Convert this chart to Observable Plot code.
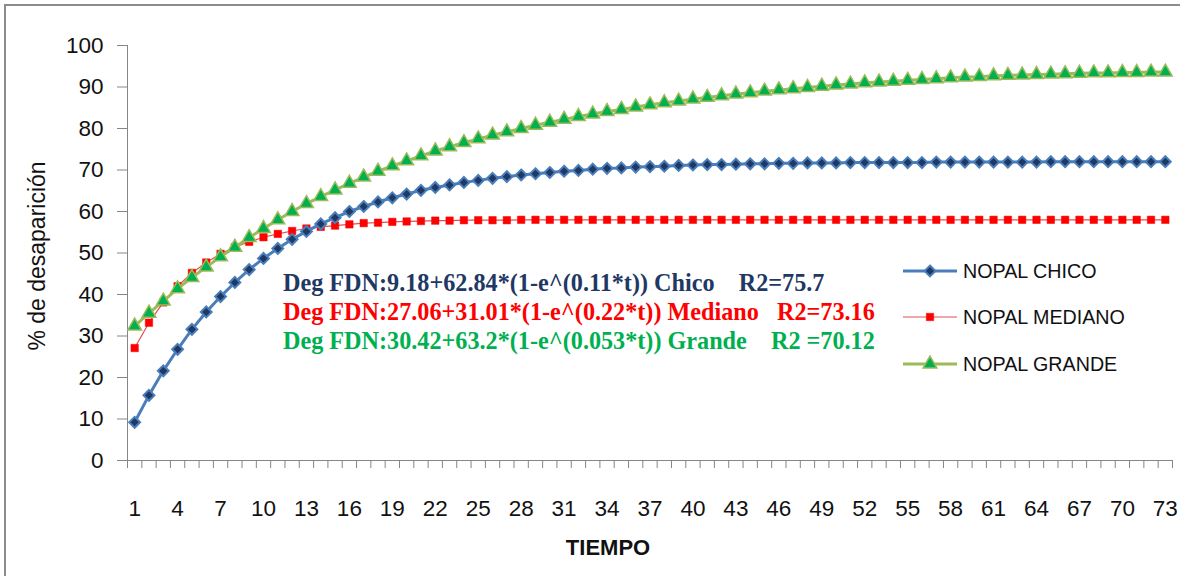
<!DOCTYPE html>
<html>
<head>
<meta charset="utf-8">
<script src="https://cdn.jsdelivr.net/npm/d3@7"></script>
<script src="https://cdn.jsdelivr.net/npm/@observablehq/plot@0.6"></script>
<style>
  html, body { margin: 0; padding: 0; background: #fff; }
  #wrap { position: relative; width: 1180px; height: 576px; overflow: hidden; background: #fff; font-family: "Liberation Sans", Arial, sans-serif; }
  #chart { position: absolute; left: 0; top: 0; }
  #chart svg text { font-size: 22.5px; }
  .bord-top { position: absolute; left: 4px; top: 4px; width: 1176px; height: 2px; background: #8c8c8c; }
  .bord-left { position: absolute; left: 4px; top: 4px; width: 2px; height: 572px; background: #8c8c8c; }
  .ylab { position: absolute; left: 37px; top: 256px; transform: translate(-50%, -50%) rotate(-90deg); font-size: 23px; white-space: nowrap; color: #111; }
  .xlab { position: absolute; left: 608px; top: 548px; transform: translate(-50%, -50%); font-size: 22px; font-weight: bold; color: #111; }
  .ann { position: absolute; left: 283px; font-family: "Liberation Serif", "Times New Roman", serif; font-weight: bold; font-size: 24.2px; line-height: 30px; white-space: pre; }
  .leg { position: absolute; left: 903px; height: 30px; display: flex; align-items: center; }
  .leg span { margin-left: 6px; font-size: 19.7px; color: #111; white-space: pre; }
</style>
</head>
<body>
<div id="wrap">
  <div id="chart"></div>
  <div class="bord-top"></div>
  <div class="bord-left"></div>
</div>
<script>
// ---- data ----
const tiempo = [1,2,3,4,5,6,7,8,9,10,11,12,13,14,15,16,17,18,19,20,21,22,23,24,25,26,27,28,29,30,31,32,33,34,35,36,37,38,39,40,41,42,43,44,45,46,47,48,49,50,51,52,53,54,55,56,57,58,59,60,61,62,63,64,65,66,67,68,69,70,71,72,73];
const xTickLabels = [1,4,7,10,13,16,19,22,25,28,31,34,37,40,43,46,49,52,55,58,61,64,67,70,73];
const yTickLabels = [0,10,20,30,40,50,60,70,80,90,100];
const seriesNames = ["NOPAL CHICO", "NOPAL MEDIANO", "NOPAL GRANDE"];
const chico = [9.2,15.7,21.6,26.8,31.6,35.8,39.5,42.9,46.0,48.7,
  51.1,53.3,55.2,57.0,58.5,60.0,61.2,62.3,63.3,64.2,
  65.1,65.8,66.4,67.0,67.5,68.0,68.4,68.8,69.1,69.4,
  69.7,69.9,70.2,70.4,70.5,70.7,70.8,70.9,71.1,71.2,
  71.3,71.3,71.4,71.5,71.5,71.6,71.6,71.7,71.7,71.7,
  71.8,71.8,71.8,71.8,71.8,71.8,71.9,71.9,71.9,71.9,
  71.9,71.9,71.9,71.9,72.0,72.0,72.0,72.0,72.0,72.0,
  72.0,72.0,72.0];
const mediano = [27.1,33.2,38.1,42.0,45.2,47.7,49.8,51.4,52.7,53.8,
  54.6,55.3,55.9,56.3,56.6,56.9,57.2,57.3,57.5,57.6,
  57.7,57.8,57.8,57.9,57.9,57.9,57.9,58.0,58.0,58.0,
  58.0,58.0,58.0,58.0,58.0,58.0,58.0,58.0,58.0,58.0,
  58.0,58.0,58.0,58.0,58.0,58.0,58.0,58.0,58.0,58.0,
  58.0,58.0,58.0,58.0,58.0,58.0,58.0,58.0,58.0,58.0,
  58.0,58.0,58.0,58.0,58.0,58.0,58.0,58.0,58.0,58.0,
  58.0,58.0,58.0];
const grande = [32.4,35.5,38.4,41.4,44.1,46.6,49.1,51.4,53.7,55.9,
  58.0,60.0,61.9,63.6,65.2,66.8,68.3,69.7,71.0,72.2,
  73.4,74.6,75.6,76.6,77.5,78.4,79.2,80.0,80.8,81.5,
  82.2,82.9,83.5,84.1,84.6,85.2,85.7,86.2,86.6,87.1,
  87.5,87.9,88.3,88.6,89.0,89.3,89.6,89.9,90.2,90.5,
  90.7,91.0,91.2,91.4,91.6,91.8,92.0,92.2,92.4,92.5,
  92.7,92.8,92.9,93.0,93.1,93.2,93.3,93.4,93.4,93.5,
  93.5,93.6,93.6];
const annotations = [
  "Deg FDN:9.18+62.84*(1-e^(0.11*t)) Chico    R2=75.7",
  "Deg FDN:27.06+31.01*(1-e^(0.22*t)) Mediano   R2=73.16",
  "Deg FDN:30.42+63.2*(1-e^(0.053*t)) Grande    R2 =70.12"
];
const yLabel = "% de desaparición";
const xLabel = "TIEMPO";

// ---- styles ----
const styles = {
  "NOPAL CHICO":   {line: "#4a7ebb", lw: 3,   symbol: "diamond2", r: 4.9, fill: "#1f3864", stroke: "#4a7ebb", sw: 2},
  "NOPAL MEDIANO": {line: "#e05050", lw: 1.2, symbol: "square",   r: 4.2, fill: "#ff0000", stroke: "#ff0000", sw: 0.5},
  "NOPAL GRANDE":  {line: "#9bbb59", lw: 3,   symbol: "triangle", r: 5.1, fill: "#00b050", stroke: "#9bbb59", sw: 1.5}
};
const annColors = ["#1f3864", "#ff0000", "#00b050"];

const rows = (name, vals) => tiempo.map((t, i) => ({t, v: vals[i], s: name}));
const data = {
  "NOPAL CHICO": rows("NOPAL CHICO", chico),
  "NOPAL MEDIANO": rows("NOPAL MEDIANO", mediano),
  "NOPAL GRANDE": rows("NOPAL GRANDE", grande)
};
const drawOrder = ["NOPAL MEDIANO", "NOPAL CHICO", "NOPAL GRANDE"];

const seriesMarks = drawOrder.flatMap(name => {
  const st = styles[name];
  return [
    Plot.line(data[name], {x: "t", y: "v", stroke: st.line, strokeWidth: st.lw}),
    Plot.dot(data[name], {x: "t", y: "v", symbol: () => st.symbol, r: st.r, fill: st.fill, stroke: st.stroke, strokeWidth: st.sw})
  ];
});

const bounds = d3.range(0.5, tiempo.length + 1, 1);

const chart = Plot.plot({
  width: 1180,
  height: 576,
  marginLeft: 127,
  marginRight: 8,
  marginTop: 45,
  marginBottom: 116,
  style: {background: "transparent", fontFamily: "'Liberation Sans', Arial, sans-serif", fontSize: "22px", color: "#111"},
  symbol: {type: "identity"},
  x: {domain: [0.5, tiempo.length + 0.5]},
  y: {domain: [0, 100]},
  marks: [
    Plot.axisY({ticks: yTickLabels, tickSize: 10, tickPadding: 14, stroke: "#868686", label: null}),
    Plot.axisX({ticks: bounds, tickSize: 8, tickFormat: () => "", stroke: "#868686", label: null}),
    Plot.axisX({ticks: xTickLabels, tickSize: 0, tickPadding: 40, label: null}),
    Plot.ruleX([0.5], {stroke: "#868686", strokeWidth: 1}),
    Plot.ruleY([0], {stroke: "#868686", strokeWidth: 1}),
    ...seriesMarks
  ]
});
document.getElementById("chart").appendChild(chart);

const wrap = document.getElementById("wrap");
// axis titles
const yl = document.createElement("div"); yl.className = "ylab"; yl.textContent = yLabel; wrap.appendChild(yl);
const xl = document.createElement("div"); xl.className = "xlab"; xl.textContent = xLabel; wrap.appendChild(xl);

// annotations
const annY = [283, 312, 341];
annotations.forEach((txt, i) => {
  const d = document.createElement("div");
  d.className = "ann";
  d.style.top = (annY[i] - 15) + "px";
  d.style.color = annColors[i];
  d.textContent = txt;
  wrap.appendChild(d);
});

// legend
const legY = [271, 317, 364];
seriesNames.forEach((name, i) => {
  const st = styles[name];
  const item = document.createElement("div");
  item.className = "leg";
  item.style.top = (legY[i] - 15) + "px";
  const svg = d3.create("svg").attr("width", 54).attr("height", 30);
  svg.append("line").attr("x1", 0).attr("x2", 54).attr("y1", 15).attr("y2", 15)
    .attr("stroke", st.line).attr("stroke-width", st.lw);
  const sym = {diamond2: d3.symbolDiamond2, square: d3.symbolSquare, triangle: d3.symbolTriangle}[st.symbol];
  svg.append("path").attr("transform", "translate(27,15)")
    .attr("d", d3.symbol(sym, Math.PI * st.r * st.r)())
    .attr("fill", st.fill).attr("stroke", st.stroke).attr("stroke-width", st.sw);
  item.appendChild(svg.node());
  const sp = document.createElement("span");
  sp.textContent = name;
  item.appendChild(sp);
  wrap.appendChild(item);
});
</script>
</body>
</html>
